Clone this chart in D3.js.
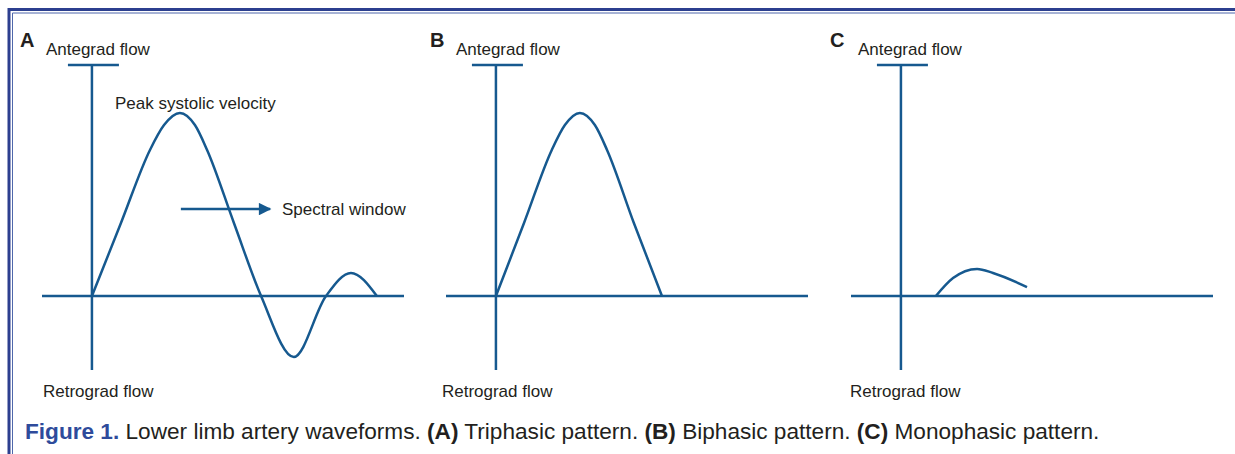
<!DOCTYPE html>
<html lang="en">
<head>
    <meta charset="UTF-8">
    <title>Lower limb artery waveforms</title>
    <style>
        body, html {
            margin: 0;
            padding: 0;
            background: #fff;
            overflow: hidden;
        }
        text {
            font-family: 'Liberation Sans', Arial, sans-serif;
            fill: #231f20;
        }
    </style>
</head>
<body>
<div id="chart"></div>

<script src="https://cdnjs.cloudflare.com/ajax/libs/d3/7.8.5/d3.min.js"></script>
<script>
    // panel letters and axis labels
    const panelLetters = ["A", "B", "C"];
    const topLabel = "Antegrad flow";
    const bottomLabel = "Retrograd flow";

    // waveforms: time (relative units) and velocity (relative to peak systolic velocity)
    const triphasicTime = [0, 0.093, 0.186, 0.231, 0.282, 0.330, 0.369, 0.455, 0.542, 0.647, 0.750, 0.830, 0.913];
    const triphasicVel  = [0, 0.399, 0.798, 0.934, 1.000, 0.934, 0.798, 0.399, 0, -0.333, 0, 0.126, 0];

    const biphasicTime = [0, 0.090, 0.179, 0.221, 0.269, 0.317, 0.356, 0.442, 0.532];
    const biphasicVel  = [0, 0.399, 0.798, 0.934, 1.000, 0.934, 0.798, 0.399, 0];

    const monophasicTime = [0.112, 0.167, 0.244, 0.295, 0.404];
    const monophasicVel  = [0, 0.098, 0.148, 0.126, 0.049];

    // annotations in panel A
    const peakLabel = { text: "Peak systolic velocity", t: 0.074, v: 1.022 };
    const windowArrow = { t1: 0.285, t2: 0.571, v: 0.475 };
    const windowLabel = { text: "Spectral window", t: 0.609, v: 0.44 };

    const captionParts = [
        { text: "Figure 1.", bold: true, blue: true },
        { text: " Lower limb artery waveforms. " },
        { text: "(A)", bold: true },
        { text: " Triphasic pattern. " },
        { text: "(B)", bold: true },
        { text: " Biphasic pattern. " },
        { text: "(C)", bold: true },
        { text: " Monophasic pattern." }
    ];

    const width = 1235, height = 454;
    const lineColor = "#16598f";

    const svg = d3.select("#chart").append("svg")
        .attr("width", width)
        .attr("height", height);

    svg.append("rect").attr("width", width).attr("height", height).attr("fill", "#fff");

    // frame (double rule top and left)
    svg.append("path")
        .attr("d", `M9,${height} V9.5 H${width}`)
        .attr("fill", "none").attr("stroke", "#2c3f8f").attr("stroke-width", 3);
    svg.append("path")
        .attr("d", `M12.5,${height} V13 H${width}`)
        .attr("fill", "none").attr("stroke", "#4f67ab").attr("stroke-width", 1);

    svg.append("defs").append("marker")
        .attr("id", "arrow")
        .attr("viewBox", "0 0 10 10")
        .attr("refX", 9).attr("refY", 5)
        .attr("markerWidth", 6).attr("markerHeight", 5)
        .attr("markerUnits", "strokeWidth")
        .attr("orient", "auto")
        .append("path")
        .attr("d", "M0,0 L10,5 L0,10 Z")
        .attr("fill", lineColor);

    const panels = [
        { x0: 42, letterDx: -72, topDx: -46, bottomDx: -49, time: triphasicTime, vel: triphasicVel },
        { x0: 446, letterDx: -66, topDx: -40, bottomDx: -54, time: biphasicTime, vel: biphasicVel },
        { x0: 851, letterDx: -71, topDx: -43, bottomDx: -51, time: monophasicTime, vel: monophasicVel }
    ];

    const y = d3.scaleLinear().domain([-0.404, 1.262]).range([370, 65]);

    panels.forEach((p, i) => {
        const x = d3.scaleLinear().domain([-0.16, 1.0]).range([p.x0, p.x0 + 362]);
        const g = svg.append("g");
        const ox = x(0);

        // velocity axis with cap
        g.append("line")
            .attr("x1", ox).attr("x2", ox)
            .attr("y1", y(1.262)).attr("y2", y(-0.404))
            .attr("stroke", lineColor).attr("stroke-width", 2.5);
        g.append("line")
            .attr("x1", ox - 24).attr("x2", ox + 27)
            .attr("y1", y(1.262)).attr("y2", y(1.262))
            .attr("stroke", lineColor).attr("stroke-width", 2.5);

        // time baseline
        g.append("line")
            .attr("x1", x(-0.16)).attr("x2", x(1.0))
            .attr("y1", y(0)).attr("y2", y(0))
            .attr("stroke", lineColor).attr("stroke-width", 2.5);

        // waveform
        const pts = p.time.map((t, k) => [t, p.vel[k]]);
        g.append("path")
            .datum(pts)
            .attr("d", d3.line()
                .x(d => x(d[0]))
                .y(d => y(d[1]))
                .curve(d3.curveMonotoneX))
            .attr("fill", "none")
            .attr("stroke", lineColor)
            .attr("stroke-width", 2.5)
            .attr("stroke-linejoin", "round");

        // labels
        g.append("text")
            .attr("x", ox + p.letterDx).attr("y", 47)
            .style("font-size", "20px").style("font-weight", "bold")
            .text(panelLetters[i]);
        g.append("text")
            .attr("x", ox + p.topDx).attr("y", 55)
            .style("font-size", "17px")
            .text(topLabel);
        g.append("text")
            .attr("x", ox + p.bottomDx).attr("y", 397)
            .style("font-size", "17px")
            .text(bottomLabel);

        if (i === 0) {
            g.append("text")
                .attr("x", x(peakLabel.t)).attr("y", y(peakLabel.v))
                .style("font-size", "17px")
                .text(peakLabel.text);
            g.append("line")
                .attr("x1", x(windowArrow.t1)).attr("x2", x(windowArrow.t2))
                .attr("y1", y(windowArrow.v)).attr("y2", y(windowArrow.v))
                .attr("stroke", lineColor).attr("stroke-width", 2.5)
                .attr("marker-end", "url(#arrow)");
            g.append("text")
                .attr("x", x(windowLabel.t)).attr("y", y(windowLabel.v))
                .style("font-size", "17px")
                .text(windowLabel.text);
        }
    });

    // caption
    const caption = svg.append("text")
        .attr("x", 25).attr("y", 439)
        .style("font-size", "19px");
    caption.selectAll("tspan")
        .data(captionParts)
        .enter().append("tspan")
        .style("font-weight", d => d.bold ? "bold" : "normal")
        .style("fill", d => d.blue ? "#2e4b9b" : "#231f20")
        .attr("xml:space", "preserve")
        .text(d => d.text);
    caption.attr("xml:space", "preserve");

    // fit caption to its printed width
    const w = caption.node().getComputedTextLength();
    caption.style("font-size", (19 * 1075 / w).toFixed(2) + "px");
</script>
</body>
</html>
